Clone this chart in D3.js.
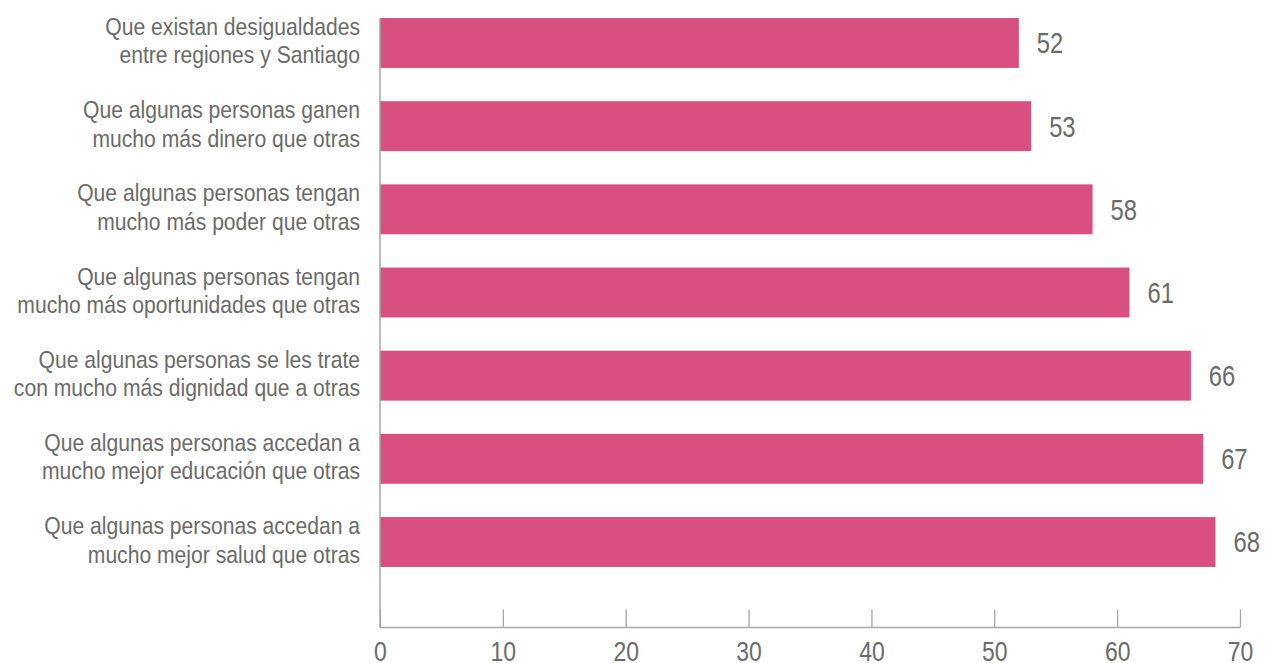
<!DOCTYPE html>
<html><head><meta charset="utf-8">
<script src="https://cdn.jsdelivr.net/npm/d3@7"></script>
<style>
html,body{margin:0;padding:0;background:#fff;}
text{font-family:"Liberation Sans",Arial,sans-serif;fill:#6b6b6b;}
</style></head>
<body><svg id="c" width="1265" height="663"></svg>
<script>
const categories = [
  ["Que existan desigualdades","entre regiones y Santiago"],
  ["Que algunas personas ganen","mucho más dinero que otras"],
  ["Que algunas personas tengan","mucho más poder que otras"],
  ["Que algunas personas tengan","mucho más oportunidades que otras"],
  ["Que algunas personas se les trate","con mucho más dignidad que a otras"],
  ["Que algunas personas accedan a","mucho mejor educación que otras"],
  ["Que algunas personas accedan a","mucho mejor salud que otras"]
];
const values = [52, 53, 58, 61, 66, 67, 68];
const tickValues = [0, 10, 20, 30, 40, 50, 60, 70];

const SX = 0.82;   // horizontal condensing for numbers
const SXC = 0.88;  // horizontal condensing for category labels
const svg = d3.select("#c");
const x = d3.scaleLinear().domain([0, 70]).range([380, 1240]);
const y = d3.scaleBand().domain(d3.range(categories.length))
  .range([1.4, 583.6]).paddingInner(0.4).paddingOuter(0.2);
const axisY = 627.5;
const axisColor = "#a6a6a6";

// bars
svg.selectAll("rect.bar").data(values).join("rect")
  .attr("class","bar")
  .attr("x", x(0))
  .attr("y", (d,i) => y(i))
  .attr("width", d => x(d) - x(0))
  .attr("height", y.bandwidth())
  .attr("fill", "#d94f81");

// value labels
svg.selectAll("g.val").data(values).join("g")
  .attr("class","val")
  .attr("transform", (d,i) => `translate(${x(d) + 18},${y(i) + y.bandwidth()/2}) scale(${SX},1)`)
  .append("text")
  .attr("dy", "0.36em")
  .style("font-size","29px")
  .text(d => d);

// category labels
svg.selectAll("g.cat").data(categories).join("g")
  .attr("class","cat")
  .attr("transform", (d,i) => `translate(360,${y(i) + y.bandwidth()/2}) scale(${SXC},1)`)
  .each(function(d){
    const t = d3.select(this).append("text")
      .attr("text-anchor","end")
      .style("font-size","24px");
    t.append("tspan").attr("x", 0).attr("y", -8).text(d[0]);
    t.append("tspan").attr("x", 0).attr("y", 20.5).text(d[1]);
  });

// x axis
const xAxis = d3.axisBottom(x).tickValues(tickValues).tickSize(-18).tickPadding(0);
const g = svg.append("g").attr("transform", `translate(0,${axisY})`).call(xAxis);
g.select(".domain").attr("stroke", axisColor).attr("stroke-width",1.5).attr("d", `M${x(0)},0H${x(70)}`);
g.selectAll(".tick line").attr("stroke", axisColor).attr("stroke-width",1.3);
g.selectAll(".tick text").attr("font-family",null).attr("font-size",null).attr("fill",null)
  .attr("y", null).attr("dy", null)
  .attr("transform", `translate(0,33) scale(${SX},1)`)
  .style("font-size","28px");

// y axis line
svg.append("line").attr("x1", x(0)).attr("x2", x(0))
  .attr("y1", y(0)).attr("y2", axisY)
  .attr("stroke", axisColor).attr("stroke-width",1.5);
</script></body></html>
